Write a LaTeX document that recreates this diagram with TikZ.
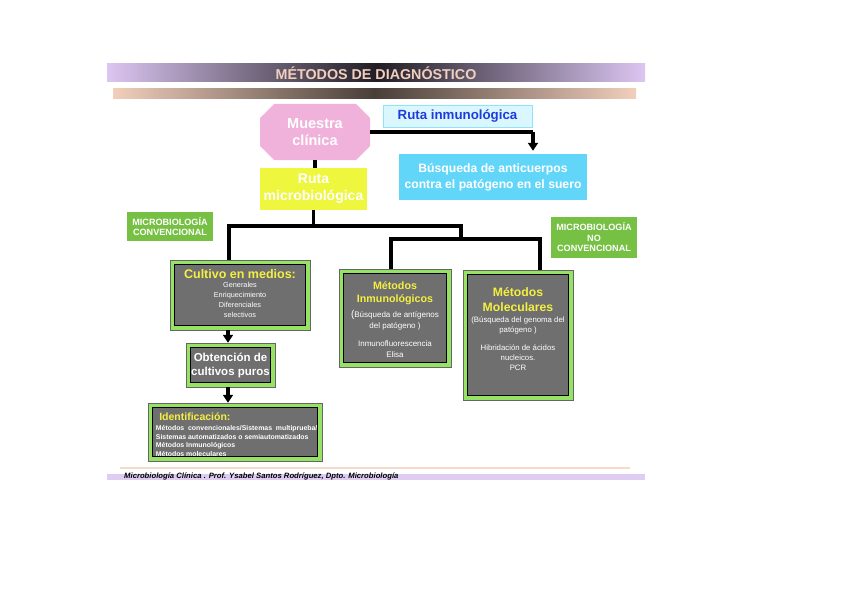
\documentclass[tikz,border=0pt]{standalone}
\usepackage{fontspec}
\setmainfont{Liberation Sans}
\usepackage{tikz}
\usetikzlibrary{positioning,arrows.meta,calc}
\definecolor{lilac}{HTML}{DCC6F2}
\definecolor{peach}{HTML}{F2CFBC}
\definecolor{pinkbox}{HTML}{F0B2DA}
\definecolor{cyanbox}{HTML}{62D6F8}
\definecolor{paleblue}{HTML}{DAF6FF}
\definecolor{inkblue}{HTML}{1E3CDC}
\definecolor{yelbox}{HTML}{EEF63E}
\definecolor{grnlab}{HTML}{76C043}
\definecolor{grnframe}{HTML}{96E264}
\definecolor{graybox}{HTML}{6F6F6F}
\definecolor{titleyel}{HTML}{F4F040}
\tikzset{
  conn/.style={line width=3.6pt, color=black},
  arr/.style={line width=3.6pt, -{Triangle[width=10pt,length=8pt]}, color=black},
  lab/.style={rectangle, fill=grnlab, text=white, font=\bfseries\fontsize{9.1}{10.5}\selectfont, align=center, inner sep=1pt},
  mbox/.style={rectangle, draw=gray!80!black, line width=0.5pt, fill=grnframe, text=white, align=center,
    path picture={\draw[black, line width=1pt, fill=graybox]
      ($(path picture bounding box.south west)+(4.5pt,4.5pt)$) rectangle
      ($(path picture bounding box.north east)+(-4.5pt,-4.5pt)$);}},
  octo/.style={rectangle, inner sep=0pt,
    path picture={\fill[pinkbox] ($(path picture bounding box.south west)+(14pt,0)$)
      -- ($(path picture bounding box.south east)+(-14pt,0)$) -- ($(path picture bounding box.south east)+(0,14pt)$)
      -- ($(path picture bounding box.north east)+(0,-14pt)$) -- ($(path picture bounding box.north east)+(-14pt,0)$)
      -- ($(path picture bounding box.north west)+(14pt,0)$) -- ($(path picture bounding box.north west)+(0,-14pt)$)
      -- ($(path picture bounding box.south west)+(0,14pt)$) -- cycle;}},
  hd/.style={text=titleyel, font=\bfseries\fontsize{12.5}{14}\selectfont},
  sm/.style={font=\fontsize{7.3}{10.2}\selectfont}
}

\begin{document}
\begin{tikzpicture}[x=1pt, y=-1pt]
\useasboundingbox (0,0) rectangle (848,599);
% bars
\node[minimum width=538pt, minimum height=18pt, inner sep=0pt, left color=lilac, right color=lilac, middle color=black!85!lilac] (bar) at (376,73) {};
\node[text=peach, font=\bfseries\fontsize{14.3}{15}\selectfont] (title) at (bar) {MÉTODOS DE DIAGNÓSTICO};
\node[minimum width=523pt, minimum height=10pt, inner sep=0pt, left color=peach, right color=peach, middle color=peach!30!black] (bar2) at (374.5,94) {};
% top
\node[octo, minimum width=110pt, minimum height=56pt, text=white, align=center,
  font=\bfseries\fontsize{14.5}{17}\selectfont] (muestra) at (315,132) {Muestra\\clínica};
\node[rectangle, fill=paleblue, draw=cyanbox!70, minimum width=149pt, minimum height=22pt, inner sep=0pt,
  text=inkblue, font=\bfseries\fontsize{13.3}{14}\selectfont] (rinmu) at (457.5,116) {Ruta inmunológica};
\node[rectangle, fill=cyanbox, minimum width=188pt, minimum height=46pt, inner sep=0pt, align=center,
  text=white, font=\bfseries\fontsize{12.2}{16}\selectfont] (busq) at (493,177) {Búsqueda de anticuerpos\\contra el patógeno en el suero};
\node[rectangle, fill=yelbox, minimum width=107pt, minimum height=42pt, inner sep=0pt, align=center,
  text=white, font=\bfseries\fontsize{14}{17}\selectfont] (rmicro) at (313.5,189) {Ruta\\microbiológica};
\coordinate (turn) at (533,133);
\draw[conn] (muestra.east) -- (muestra.east -| turn);
\draw[arr, shorten >=3pt] (muestra.east -| turn) -- (turn |- busq.north);
\draw[conn] (muestra.south) -- (muestra.south |- rmicro.north);
% labels
\node[lab, minimum width=86pt, minimum height=29pt] (conv) at (170,226.5) {MICROBIOLOGÍA\\CONVENCIONAL};
\node[lab, minimum width=86pt, minimum height=41pt] (noconv) at (594,237.5) {MICROBIOLOGÍA\\NO\\CONVENCIONAL};
% boxes
\node[mbox, minimum width=140pt, minimum height=70pt] (cult) at (240,295) {};
\node[hd, anchor=north] (culth) at ($(cult.north)+(0,6)$) {Cultivo en medios:};
\node[sm, text=white, align=center, anchor=north] (cultl) at ($(culth.south)+(0,-3.5)$) {Generales\\Enriquecimiento\\Diferenciales\\selectivos};
\node[mbox, minimum width=89pt, minimum height=44pt, inner sep=2pt, font=\bfseries\fontsize{11.5}{14}\selectfont] (obt) at (230.5,365) {Obtención de\\cultivos puros};
\node[mbox, minimum width=174pt, minimum height=58pt] (ident) at (235,432) {};
\node[hd, anchor=north west, font=\bfseries\fontsize{10.5}{12}\selectfont] (identh) at ($(ident.north west)+(8,6.5)$) {Identificación:};
\node[text=white, align=left, anchor=north west, inner sep=0pt, font=\bfseries\fontsize{6.9}{8.4}\selectfont] (identl) at ($(identh.south west)+(0,1.5)$) {Métodos \ convencionales/Sistemas \ multiprueba/\\Sistemas automatizados o semiautomatizados\\Métodos Inmunológicos\\Métodos moleculares};
\node[mbox, minimum width=112pt, minimum height=98pt] (inmu) at (395,318) {};
\node[hd, align=center, anchor=north, font=\bfseries\fontsize{10.7}{13.5}\selectfont] (inmuh) at ($(inmu.north)+(0,9)$) {Métodos\\Inmunológicos};
\node[text=white, align=center, anchor=north, font=\fontsize{8}{11}\selectfont] (inmul) at ($(inmuh.south)+(0,-2)$) {{\fontsize{10}{11}\selectfont(}Búsqueda de antígenos\\del patógeno )\\[7pt]Inmunofluorescencia\\Elisa};
\node[mbox, minimum width=110pt, minimum height=130pt] (molec) at (518,335) {};
\node[hd, align=center, anchor=north, font=\bfseries\fontsize{12.2}{15}\selectfont] (molech) at ($(molec.north)+(0,14)$) {Métodos\\Moleculares};
\node[text=white, align=center, anchor=north, font=\fontsize{7.8}{10}\selectfont] (molecl) at ($(molech.south)+(0,-2)$) {(Búsqueda del genoma del\\patógeno )\\[8pt]Hibridación de ácidos\\nucleicos.\\PCR};
% tree
\coordinate (jl) at (229,226);
\coordinate (jr) at (461,226);
\coordinate (kl) at (391,239);
\coordinate (kr) at (540,239);
\coordinate (ax) at (228,0);
\draw[conn] (rmicro.south) -- (rmicro.south |- jl);
\draw[conn] (cult.north -| jl) -- (jl) -- (jr) -- (jr |- kl);
\draw[conn] (inmu.north -| kl) -- (kl) -- (kr) -- (molec.north -| kr);
\draw[arr] (cult.south -| ax) -- (obt.north -| ax);
\draw[arr] (obt.south -| ax) -- (ident.north -| ax);
% footer
\node[minimum width=510pt, minimum height=2pt, inner sep=0pt, fill=peach!80] (rule) at (375,467.5) {};
\node[minimum width=538pt, minimum height=5.5pt, inner sep=0pt, fill=lilac!90] (fbar) at (376,477) {};
\node[anchor=west, inner sep=0pt, font=\bfseries\itshape\fontsize{7.7}{8}\selectfont] (foot) at (124,476.5) {Microbiología Clínica . Prof. Ysabel Santos Rodríguez, Dpto. Microbiología};
\end{tikzpicture}
\end{document}
